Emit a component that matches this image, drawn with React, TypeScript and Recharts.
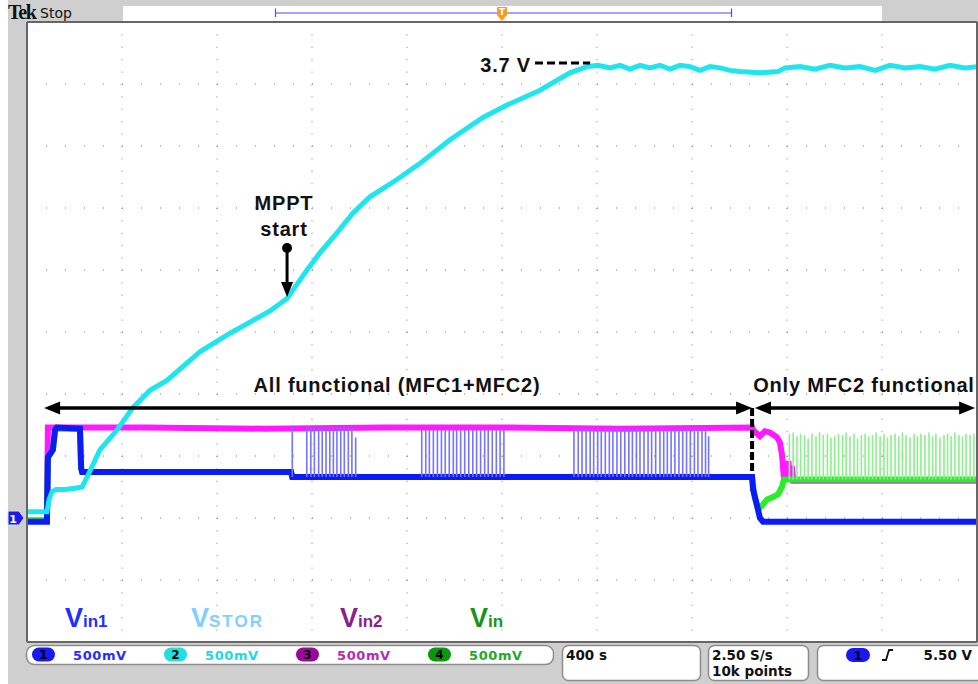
import React from 'react';
import {
  LineChart,
  Line,
  XAxis,
  YAxis,
  CartesianGrid,
  ReferenceLine,
  ReferenceDot,
} from 'recharts';

// time in s (400 s/div), level in V on screen (0.5 V/div, ch1 ground = 0)
const timeTicks = [0, 400, 800, 1200, 1600, 2000, 2400, 2800, 3200, 3600, 4000];
const levelTicks = [-1, -0.5, 0, 0.5, 1, 1.5, 2, 2.5, 3, 3.5, 4];
const minorTimeTicks = Array.from({ length: 51 }, (_, i) => i * 80);
const minorLevelTicks = Array.from({ length: 51 }, (_, i) => -1 + i * 0.1);

const vstor: [number, number][] = [
  [0, 0.05], [84, 0.05], [93, 0.15], [105, 0.21], [122, 0.23], [160, 0.23],
  [202, 0.24], [232, 0.25], [253, 0.33], [307, 0.55], [379, 0.71], [446, 0.89],
  [518, 1.03], [589, 1.11], [728, 1.34], [855, 1.49], [939, 1.58], [1023, 1.67],
  [1095, 1.77], [1120, 1.84], [1179, 2.0], [1234, 2.14], [1305, 2.3], [1373, 2.46],
  [1444, 2.59], [1558, 2.73], [1655, 2.86], [1781, 3.05], [1920, 3.23], [2021, 3.33],
  [2160, 3.45], [2286, 3.59], [2358, 3.64], [2404, 3.65], [2455, 3.63], [2497, 3.65],
  [2539, 3.62], [2581, 3.65], [2623, 3.63], [2665, 3.65], [2707, 3.62], [2750, 3.65],
  [2792, 3.64], [2834, 3.61], [2876, 3.64], [2918, 3.63], [2960, 3.61], [3002, 3.6],
  [3086, 3.59], [3162, 3.6], [3192, 3.63], [3255, 3.64], [3318, 3.62], [3381, 3.65],
  [3444, 3.63], [3507, 3.64], [3571, 3.61], [3634, 3.65], [3697, 3.63], [3760, 3.64],
  [3823, 3.62], [3886, 3.65], [3949, 3.63], [4000, 3.64],
];

const vin1: [number, number][] = [
  [0, -0.03], [84, -0.03], [88, 0.49], [109, 0.55], [118, 0.71], [126, 0.73],
  [223, 0.72], [228, 0.4], [232, 0.37], [1112, 0.37], [1117, 0.33], [3053, 0.33],
  [3057, 0.23], [3074, 0.1], [3086, 0.0], [3099, -0.03], [4000, -0.03],
];

const vin1Pulses: [number, number][] = [
  [1117, 0.73], [1178, 0.73], [1195, 0.73], [1210, 0.73], [1228, 0.73], [1243, 0.73],
  [1259, 0.73], [1275, 0.73], [1290, 0.73], [1305, 0.73], [1321, 0.73], [1336, 0.73],
  [1353, 0.73], [1368, 0.73], [1384, 0.65],
  [1662, 0.71], [1679, 0.71], [1694, 0.71], [1711, 0.71], [1728, 0.71], [1745, 0.71],
  [1761, 0.71], [1778, 0.71], [1795, 0.71], [1809, 0.71], [1826, 0.71], [1843, 0.71],
  [1860, 0.71], [1877, 0.71], [1893, 0.71], [1910, 0.71], [1927, 0.71], [1942, 0.71],
  [1959, 0.71], [1976, 0.71], [1992, 0.71], [2008, 0.71],
  [2303, 0.72], [2321, 0.72], [2337, 0.72], [2354, 0.72], [2371, 0.72], [2386, 0.72],
  [2403, 0.72], [2418, 0.72], [2435, 0.72], [2452, 0.72], [2467, 0.72], [2484, 0.72],
  [2500, 0.72], [2517, 0.72], [2534, 0.72], [2549, 0.72], [2566, 0.72], [2581, 0.72],
  [2598, 0.72], [2615, 0.72], [2630, 0.72], [2647, 0.72], [2665, 0.72], [2681, 0.72],
  [2696, 0.72], [2712, 0.72], [2728, 0.72], [2745, 0.72], [2761, 0.72], [2777, 0.72],
  [2793, 0.72], [2810, 0.72], [2825, 0.72], [2842, 0.72], [2857, 0.72], [2870, 0.66],
];

const vin2: [number, number][] = [
  [0, -0.02], [84, -0.02], [88, 0.73], [500, 0.73], [1000, 0.72], [1500, 0.73],
  [2000, 0.73], [2500, 0.72], [3053, 0.73], [3057, 0.71], [3086, 0.66], [3107, 0.7],
  [3128, 0.69], [3158, 0.65], [3170, 0.61], [3179, 0.51], [3187, 0.32], [3195, 0.44],
  [3199, 0.31], [3206, 0.46], [3212, 0.31], [3220, 0.42], [3226, 0.3], [4000, 0.3],
];

const vin: [number, number][] = [
  [0, -0.02], [84, -0.02], [88, 0.49], [109, 0.55], [118, 0.71], [126, 0.72],
  [223, 0.72], [228, 0.4], [232, 0.37], [1112, 0.37], [1117, 0.33], [3044, 0.33],
  [3053, 0.32], [3065, 0.16], [3078, 0.07], [3095, 0.1], [3116, 0.15], [3141, 0.17],
  [3162, 0.19], [3179, 0.25], [3187, 0.31], [4000, 0.31],
];

const vinPulses: [number, number][] = [
  [3210, 0.68], [3226, 0.69], [3242, 0.66], [3257, 0.68], [3274, 0.67], [3289, 0.64],
  [3305, 0.68], [3322, 0.66], [3337, 0.69], [3353, 0.67], [3370, 0.68], [3385, 0.65],
  [3401, 0.66], [3417, 0.68], [3434, 0.67], [3449, 0.69], [3465, 0.66], [3482, 0.68],
  [3497, 0.64], [3513, 0.67], [3529, 0.68], [3544, 0.66], [3560, 0.67], [3575, 0.69],
  [3592, 0.66], [3608, 0.68], [3623, 0.65], [3638, 0.67], [3655, 0.68], [3671, 0.66],
  [3686, 0.69], [3701, 0.67], [3718, 0.65], [3735, 0.68], [3749, 0.66], [3764, 0.68],
  [3781, 0.67], [3798, 0.69], [3813, 0.66], [3827, 0.68], [3844, 0.65], [3861, 0.67],
  [3876, 0.68], [3891, 0.66], [3907, 0.69], [3924, 0.67], [3939, 0.66], [3954, 0.68],
  [3971, 0.67], [3987, 0.68],
];

const legendNames = ['in1', 'STOR', 'in2', 'in'];
const channelScales = ['500mV', '500mV', '500mV', '500mV'];
const timebase = '400 s';
const sampleRate = '2.50 S/s';
const recordLength = '10k points';
const triggerLevel = '5.50 V';

const toPoints = (pairs: [number, number][]) => pairs.map(([t, v]) => ({ t, v }));
const toPulses = (pairs: [number, number][], base: number) =>
  pairs.flatMap(([t, peak]) => [
    { t, v: base },
    { t, v: peak },
    { t, v: null },
  ]);

const FONT = '"Liberation Sans", Arial, sans-serif';
const UI = '"DejaVu Sans", sans-serif';

const note = (text: string, anchor: 'start' | 'middle' | 'end') => (p: any) => (
  <text
    x={p.cx}
    y={p.cy}
    textAnchor={anchor}
    fontFamily={FONT}
    fontWeight="bold"
    fontSize={20}
    letterSpacing={0.8}
    fill="#111"
  >
    {text}
  </text>
);

const doubleArrow = (p: any) => {
  const { x1, y1, x2, y2 } = p;
  const h = 16;
  const w = 6.5;
  return (
    <g>
      <line x1={x1 + h - 2} y1={y1} x2={x2 - h + 2} y2={y2} stroke="#000" strokeWidth={3.5} />
      <polygon points={`${x1},${y1} ${x1 + h},${y1 - w} ${x1 + h},${y1 + w}`} fill="#000" />
      <polygon points={`${x2},${y2} ${x2 - h},${y2 - w} ${x2 - h},${y2 + w}`} fill="#000" />
    </g>
  );
};

const downArrow = (p: any) => {
  const { x1, y1, x2, y2 } = p;
  const h = 15;
  const w = 6;
  return (
    <g>
      <circle cx={x1} cy={y1} r={5} fill="#000" />
      <line x1={x1} y1={y1} x2={x2} y2={y2 - h + 2} stroke="#000" strokeWidth={3} />
      <polygon points={`${x2},${y2} ${x2 - w},${y2 - h} ${x2 + w},${y2 - h}`} fill="#000" />
    </g>
  );
};

const legendColors = ['#1e2fff', '#7fcfff', '#8b1f8b', '#17931a'];
const legendX = [65, 191, 340, 470];
const pillColors = ['#1818f0', '#22dede', '#9a0a9a', '#0e960e'];
const scaleColors = ['#2a2aff', '#25d5e5', '#b52bb5', '#25a825'];
const pillX = [32, 164, 296, 428];

export default function App() {
  return (
    <div
      style={{
        position: 'fixed',
        left: 0,
        top: 0,
        width: 978,
        height: 684,
        background: '#cfcfcf',
        overflow: 'hidden',
      }}
    >
      <LineChart width={978} height={684} margin={{ top: 22, right: 1, bottom: 42, left: 27 }}>
        <XAxis xAxisId="t" dataKey="t" type="number" domain={[0, 4000]} ticks={timeTicks} hide />
        <YAxis yAxisId="v" type="number" domain={[-1, 4]} ticks={levelTicks} hide />
        <XAxis
          xAxisId="top"
          orientation="top"
          dataKey="t"
          type="number"
          domain={[0, 4000]}
          ticks={minorTimeTicks}
          interval={0}
          mirror
          tickSize={4}
          tickFormatter={() => ''}
          stroke="#666"
          axisLine={{ stroke: '#666', strokeWidth: 2 }}
        />
        <XAxis
          xAxisId="bottom"
          orientation="bottom"
          dataKey="t"
          type="number"
          domain={[0, 4000]}
          ticks={minorTimeTicks}
          interval={0}
          mirror
          tickSize={4}
          tickFormatter={() => ''}
          stroke="#666"
          axisLine={{ stroke: '#666', strokeWidth: 2 }}
        />
        <YAxis
          yAxisId="left"
          orientation="left"
          type="number"
          domain={[-1, 4]}
          ticks={minorLevelTicks}
          interval={0}
          mirror
          tickSize={4}
          tickFormatter={() => ''}
          stroke="#666"
          axisLine={{ stroke: '#666', strokeWidth: 2 }}
        />
        <YAxis
          yAxisId="right"
          orientation="right"
          type="number"
          domain={[-1, 4]}
          ticks={minorLevelTicks}
          interval={0}
          mirror
          tickSize={4}
          tickFormatter={() => ''}
          stroke="#666"
          axisLine={{ stroke: '#666', strokeWidth: 2 }}
        />
        <CartesianGrid
          xAxisId="t"
          yAxisId="v"
          vertical={false}
          fill="#fff"
          stroke="#7a7a7a"
          strokeDasharray="1 18"
        />
        <CartesianGrid
          xAxisId="t"
          yAxisId="v"
          horizontal={false}
          stroke="#7a7a7a"
          strokeDasharray="1 11.4"
        />

        <Line
          xAxisId="t"
          yAxisId="v"
          data={toPoints(vin2)}
          dataKey="v"
          name="Vin2"
          type="linear"
          stroke="#ff1aff"
          strokeWidth={6}
          dot={false}
          isAnimationActive={false}
        />
        <Line
          xAxisId="t"
          yAxisId="v"
          data={toPoints(vin)}
          dataKey="v"
          name="Vin"
          type="linear"
          stroke="#2aec2a"
          strokeWidth={6}
          dot={false}
          isAnimationActive={false}
        />
        <Line
          xAxisId="t"
          yAxisId="v"
          data={toPulses(vinPulses, 0.31)}
          dataKey="v"
          name="Vin pulses"
          type="linear"
          stroke="#8cf08c"
          strokeWidth={1.6}
          dot={false}
          legendType="none"
          isAnimationActive={false}
        />
        <Line
          xAxisId="t"
          yAxisId="v"
          data={toPoints(vin1)}
          dataKey="v"
          name="Vin1"
          type="linear"
          stroke="#0b1cf5"
          strokeWidth={6}
          dot={false}
          isAnimationActive={false}
        />
        <Line
          xAxisId="t"
          yAxisId="v"
          data={toPulses(vin1Pulses, 0.33)}
          dataKey="v"
          name="Vin1 pulses"
          type="linear"
          stroke="#7474ff"
          strokeWidth={1.6}
          dot={false}
          legendType="none"
          isAnimationActive={false}
        />
        <Line
          xAxisId="t"
          yAxisId="v"
          data={toPoints(vstor)}
          dataKey="v"
          name="VSTOR"
          type="linear"
          stroke="#1fe6ee"
          strokeWidth={5}
          dot={false}
          isAnimationActive={false}
        />

        <ReferenceLine
          xAxisId="t"
          yAxisId="v"
          segment={[{ x: 2139, y: 3.67 }, { x: 2371, y: 3.67 }]}
          stroke="#000"
          strokeWidth={3}
          strokeDasharray="8 4"
        />
        <ReferenceDot xAxisId="t" yAxisId="v" x={2122} y={3.6} r={1} shape={note('3.7 V', 'end')} />
        <ReferenceDot xAxisId="t" yAxisId="v" x={1082} y={2.484} r={1} shape={note('MPPT', 'middle')} />
        <ReferenceDot xAxisId="t" yAxisId="v" x={1082} y={2.274} r={1} shape={note('start', 'middle')} />
        <ReferenceLine
          xAxisId="t"
          yAxisId="v"
          segment={[{ x: 1095, y: 2.177 }, { x: 1095, y: 1.782 }]}
          shape={downArrow}
        />
        <ReferenceLine
          xAxisId="t"
          yAxisId="v"
          segment={[{ x: 72, y: 0.887 }, { x: 3053, y: 0.887 }]}
          shape={doubleArrow}
        />
        <ReferenceLine
          xAxisId="t"
          yAxisId="v"
          segment={[{ x: 3065, y: 0.887 }, { x: 3992, y: 0.887 }]}
          shape={doubleArrow}
        />
        <ReferenceLine
          xAxisId="t"
          yAxisId="v"
          segment={[{ x: 3053, y: 0.887 }, { x: 3053, y: 0.371 }]}
          stroke="#000"
          strokeWidth={4}
          strokeDasharray="8 3"
        />
        <ReferenceDot
          xAxisId="t"
          yAxisId="v"
          x={1558}
          y={1.016}
          r={1}
          shape={note('All functional (MFC1+MFC2)', 'middle')}
        />
        <ReferenceDot
          xAxisId="t"
          yAxisId="v"
          x={3524}
          y={1.016}
          r={1}
          shape={note('Only MFC2 functional', 'middle')}
        />
      </LineChart>

      <svg
        width={978}
        height={684}
        style={{ position: 'absolute', left: 0, top: 0, pointerEvents: 'none' }}
      >
        <rect x={0} y={0} width={8} height={684} fill="#fff" />

        {/* header */}
        <text x={8} y={19} fontFamily='"Liberation Serif", serif' fontWeight="bold" fontSize={20} letterSpacing={-1.3} fill="#111">
          Tek
        </text>
        <text x={40} y={18} fontFamily={UI} fontSize={14} fill="#111">
          Stop
        </text>
        <rect x={123} y={6} width={759} height={15} fill="#fff" />
        <path d="M275.5 8.5 V17 M275 13 H732 M731.5 8.5 V17" stroke="#4a4aff" strokeWidth={1.2} fill="none" />
        <path d="M497 7 H507 V15 L502 21 L497 15 Z" fill="#ff9a1a" />
        <text x={502} y={15} textAnchor="middle" fontFamily={UI} fontWeight="bold" fontSize={9} fill="#fff">
          T
        </text>

        {/* ch1 ground marker */}
        <polygon points="8,511 19,511 24,518 19,525 8,525" fill="#1a1aee" stroke="#ddd" strokeWidth={1} />
        <text x={13} y={522.5} textAnchor="middle" fontFamily={UI} fontWeight="bold" fontSize={11} fill="#fff">
          1
        </text>

        {/* trace names */}
        {legendNames.map((sub, i) => (
          <text key={sub} x={legendX[i]} y={627} fontFamily={FONT} fontWeight="bold" fill={legendColors[i]}>
            <tspan fontSize={27}>V</tspan>
            <tspan fontSize={17} letterSpacing={sub === 'STOR' ? 2 : 0}>
              {sub}
            </tspan>
          </text>
        ))}

        {/* status bar */}
        <rect x={26.5} y={645.5} width={527} height={19} rx={8} fill="#fff" stroke="#8c8c8c" strokeWidth={1.5} />
        {channelScales.map((s, i) => (
          <g key={i}>
            <rect x={pillX[i]} y={647.5} width={23} height={14} rx={7} fill={pillColors[i]} />
            <text x={pillX[i] + 11.5} y={659} textAnchor="middle" fontFamily={UI} fontWeight="bold" fontSize={12} fill="#000">
              {i + 1}
            </text>
            <text x={pillX[i] + 41} y={660} fontFamily={UI} fontWeight="bold" fontSize={13} letterSpacing={0.6} fill={scaleColors[i]}>
              {s}
            </text>
          </g>
        ))}

        <rect x={562.5} y={645.5} width={138} height={35} rx={6} fill="#fff" stroke="#8c8c8c" strokeWidth={1.5} />
        <text x={566} y={660} fontFamily={UI} fontWeight="bold" fontSize={13.5} fill="#111">
          {timebase}
        </text>

        <rect x={708.5} y={645.5} width={100} height={35} rx={6} fill="#fff" stroke="#8c8c8c" strokeWidth={1.5} />
        <text x={712} y={660} fontFamily={UI} fontWeight="bold" fontSize={13.5} fill="#111">
          {sampleRate}
        </text>
        <text x={712} y={676} fontFamily={UI} fontWeight="bold" fontSize={13.5} fill="#111">
          {recordLength}
        </text>

        <rect x={817.5} y={645.5} width={170} height={35} rx={6} fill="#fff" stroke="#8c8c8c" strokeWidth={1.5} />
        <rect x={846} y={648} width={24} height={14} rx={7} fill="#1818f0" />
        <text x={858} y={659.5} textAnchor="middle" fontFamily={UI} fontWeight="bold" fontSize={12} fill="#000">
          1
        </text>
        <path d="M882 660 H886 L889 650 H893" stroke="#111" strokeWidth={1.8} fill="none" />
        <text x={972} y={660} textAnchor="end" fontFamily={UI} fontWeight="bold" fontSize={13.5} fill="#111">
          {triggerLevel}
        </text>
      </svg>
    </div>
  );
}
